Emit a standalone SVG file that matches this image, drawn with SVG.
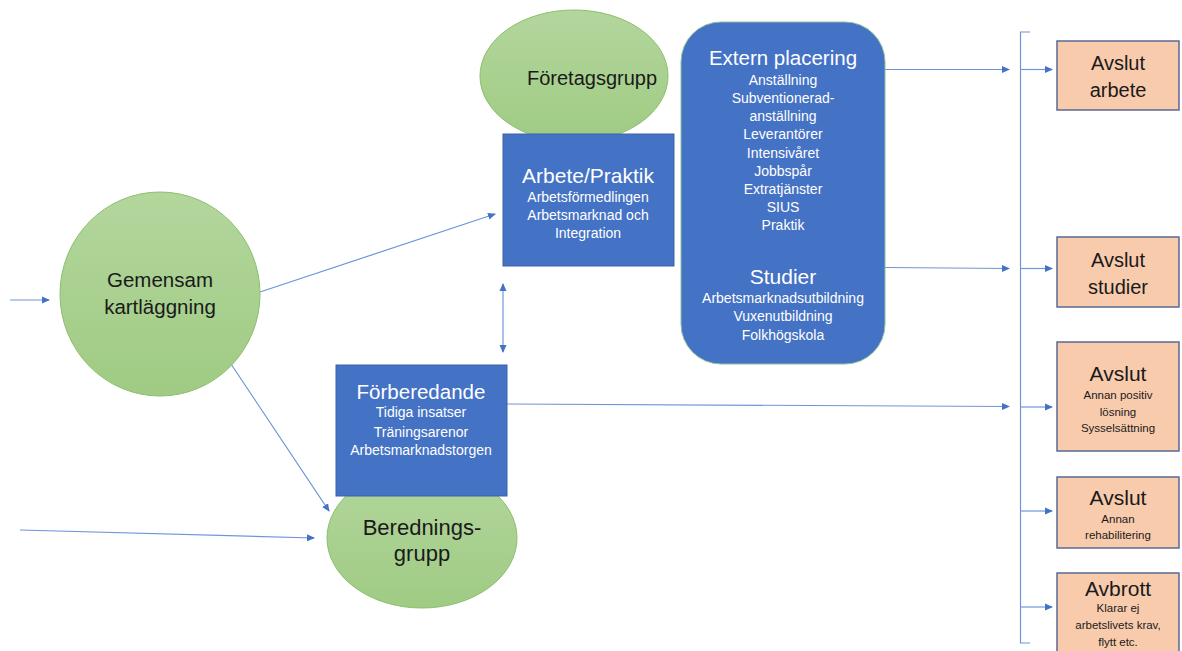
<svg xmlns="http://www.w3.org/2000/svg" width="1182" height="651" viewBox="0 0 1182 651">
<defs>
<marker id="ah" markerWidth="8" markerHeight="8" refX="7" refY="4" orient="auto" markerUnits="userSpaceOnUse">
<path d="M0,0.5 L8,4 L0,7.5 z" fill="#4472c4"/>
</marker>
<marker id="ahs" markerWidth="8" markerHeight="8" refX="1" refY="4" orient="auto" markerUnits="userSpaceOnUse">
<path d="M8,0.5 L0,4 L8,7.5 z" fill="#4472c4"/>
</marker>
<linearGradient id="gg" x1="0" y1="0" x2="0" y2="1">
<stop offset="0" stop-color="#b3d69d"/>
<stop offset="1" stop-color="#9fcb83"/>
</linearGradient>
</defs>
<style>
.t{font-family:"Liberation Sans",Arial,sans-serif;text-anchor:middle}
.dk{fill:#1a1a1a}
.wt{fill:#ffffff}
.s{font-size:14px}
.ss{font-size:11.5px}
.green{fill:url(#gg);stroke:#8cbf6c;stroke-width:1}
.blue{fill:#4472c4;stroke:#3a62a8;stroke-width:1}
.ora{fill:#f8cbad;stroke:#5a6a92;stroke-width:1.5}
.c{stroke:#6f95d8;stroke-width:1.2;fill:none}
</style>
<rect width="1182" height="651" fill="#ffffff"/>

<g id="connectors">
<line class="c" x1="10" y1="300" x2="49" y2="300" marker-end="url(#ah)"/>
<line class="c" x1="20" y1="530" x2="314" y2="538" marker-end="url(#ah)"/>
<line class="c" x1="260" y1="292" x2="495" y2="214" marker-end="url(#ah)"/>
<line class="c" x1="231" y1="364" x2="329" y2="511" marker-end="url(#ah)"/>
<line class="c" x1="503" y1="284" x2="503" y2="352" marker-start="url(#ahs)" marker-end="url(#ah)"/>
<line class="c" x1="885" y1="69.5" x2="1009" y2="69.5" marker-end="url(#ah)"/>
<line class="c" x1="885" y1="267.5" x2="1009" y2="268.5" marker-end="url(#ah)"/>
<line class="c" x1="507" y1="404" x2="1009" y2="406.5" marker-end="url(#ah)"/>
<path class="c" d="M1030,32 L1020.5,32 L1020.5,643 L1030,643"/>
<line class="c" x1="1021" y1="69.5" x2="1052" y2="69.5" marker-end="url(#ah)"/>
<line class="c" x1="1021" y1="268.5" x2="1052" y2="268.5" marker-end="url(#ah)"/>
<line class="c" x1="1021" y1="407" x2="1052" y2="407" marker-end="url(#ah)"/>
<line class="c" x1="1021" y1="511" x2="1052" y2="511" marker-end="url(#ah)"/>
<line class="c" x1="1021" y1="607" x2="1052" y2="607" marker-end="url(#ah)"/>
</g>

<g id="gemensam">
<ellipse class="green" cx="160" cy="294" rx="100" ry="102"/>
<text class="t dk" x="160" y="287" font-size="20.5">Gemensam</text>
<text class="t dk" x="160" y="314" font-size="20.5">kartläggning</text>
</g>

<g id="foretagsgrupp">
<ellipse class="green" cx="574" cy="76" rx="94" ry="66"/>
<text class="t dk" x="592" y="85" font-size="20">Företagsgrupp</text>
</g>

<g id="arbete">
<rect class="blue" x="503" y="134" width="171" height="132"/>
<text class="t wt" x="588" y="182.5" font-size="21">Arbete/Praktik</text>
<text class="t wt s" x="588" y="202">Arbetsförmedlingen</text>
<text class="t wt s" x="588" y="220">Arbetsmarknad och</text>
<text class="t wt s" x="588" y="238">Integration</text>
</g>

<g id="beredningsgrupp">
<ellipse class="green" cx="422" cy="538" rx="95" ry="70"/>
<text class="t dk" x="422" y="535" font-size="22">Berednings-</text>
<text class="t dk" x="422" y="561" font-size="22">grupp</text>
</g>

<g id="forberedande">
<rect class="blue" x="336" y="365" width="171" height="131"/>
<text class="t wt" x="421" y="398.5" font-size="20.5">Förberedande</text>
<text class="t wt s" x="421" y="417">Tidiga insatser</text>
<text class="t wt s" x="421" y="436.5">Träningsarenor</text>
<text class="t wt s" x="421" y="455">Arbetsmarknadstorgen</text>
</g>

<g id="extern">
<rect x="681" y="22" width="204" height="342" rx="40" ry="40" fill="#4472c4" stroke="#8cbf9c" stroke-width="1"/>
<text class="t wt" x="783" y="65" font-size="20.5">Extern placering</text>
<text class="t wt s" x="783" y="85">Anställning</text>
<text class="t wt s" x="783" y="103">Subventionerad-</text>
<text class="t wt s" x="783" y="121">anställning</text>
<text class="t wt s" x="783" y="139">Leverantörer</text>
<text class="t wt s" x="783" y="157.5">Intensivåret</text>
<text class="t wt s" x="783" y="175.5">Jobbspår</text>
<text class="t wt s" x="783" y="193.5">Extratjänster</text>
<text class="t wt s" x="783" y="211.5">SIUS</text>
<text class="t wt s" x="783" y="230">Praktik</text>
<text class="t wt" x="783" y="283.5" font-size="21">Studier</text>
<text class="t wt s" x="783" y="303">Arbetsmarknadsutbildning</text>
<text class="t wt s" x="783" y="321">Vuxenutbildning</text>
<text class="t wt s" x="783" y="339.5">Folkhögskola</text>
</g>

<g id="avslut-arbete">
<rect class="ora" x="1057" y="41" width="122" height="69"/>
<text class="t dk" x="1118" y="70" font-size="20">Avslut</text>
<text class="t dk" x="1118" y="97" font-size="20">arbete</text>
</g>

<g id="avslut-studier">
<rect class="ora" x="1057" y="237" width="122" height="70"/>
<text class="t dk" x="1118" y="267" font-size="20">Avslut</text>
<text class="t dk" x="1118" y="294" font-size="20">studier</text>
</g>

<g id="avslut-annan">
<rect class="ora" x="1057" y="342" width="122" height="109"/>
<text class="t dk" x="1118" y="380.5" font-size="21">Avslut</text>
<text class="t dk ss" x="1118" y="399">Annan positiv</text>
<text class="t dk ss" x="1118" y="415.5">lösning</text>
<text class="t dk ss" x="1118" y="432">Sysselsättning</text>
</g>

<g id="avslut-rehab">
<rect class="ora" x="1057" y="477" width="122" height="71"/>
<text class="t dk" x="1118" y="504.5" font-size="21">Avslut</text>
<text class="t dk ss" x="1118" y="522.5">Annan</text>
<text class="t dk ss" x="1118" y="539">rehabilitering</text>
</g>

<g id="avbrott">
<rect class="ora" x="1057" y="573" width="122" height="85"/>
<text class="t dk" x="1118" y="595.5" font-size="21">Avbrott</text>
<text class="t dk ss" x="1118" y="611.5">Klarar ej</text>
<text class="t dk ss" x="1118" y="628.5">arbetslivets krav,</text>
<text class="t dk ss" x="1118" y="646">flytt etc.</text>
</g>
</svg>
